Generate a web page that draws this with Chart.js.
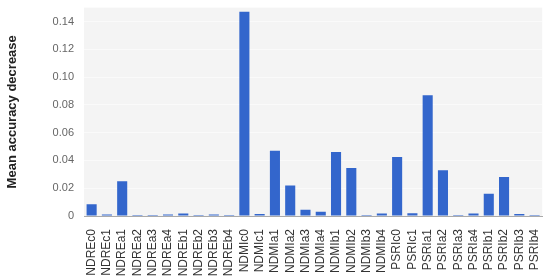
<!DOCTYPE html>
<html>
<head>
<meta charset="utf-8">
<script src="https://cdn.jsdelivr.net/npm/chart.js@4"></script>
<style>
  html, body { margin: 0; padding: 0; background: #fff; overflow: hidden; width: 550px; height: 278px; }
  #wrap { width: 554px; height: 287px; position: absolute; left: 0; top: -9px; }
</style>
</head>
<body>
<div id="wrap"><canvas id="chart"></canvas></div>
<script>
const categories = ['NDREc0','NDREc1','NDREa1','NDREa2','NDREa3','NDREa4','NDREb1','NDREb2','NDREb3','NDREb4',
  'NDMIc0','NDMIc1','NDMIa1','NDMIa2','NDMIa3','NDMIa4','NDMIb1','NDMIb2','NDMIb3','NDMIb4',
  'PSRIc0','PSRIc1','PSRIa1','PSRIa2','PSRIa3','PSRIa4','PSRIb1','PSRIb2','PSRIb3','PSRIb4'];
const meanDecrease = [0.0085,0.001,0.025,0.0006,0.0004,0.001,0.0018,0.0002,0.001,0.0003,
  0.147,0.0015,0.047,0.022,0.0045,0.003,0.046,0.0345,0.0008,0.0018,
  0.0425,0.002,0.087,0.033,0.0005,0.0018,0.016,0.028,0.0015,0.0007];
const yTicks = [0,0.02,0.04,0.06,0.08,0.10,0.12,0.14];

const plotBg = {
  id: 'plotBg',
  beforeDraw(chart) {
    const {ctx, chartArea: a} = chart;
    ctx.save();
    ctx.fillStyle = '#f4f4f4';
    ctx.fillRect(a.left, a.top, a.right - a.left, a.bottom - a.top);
    ctx.restore();
  }
};

new Chart(document.getElementById('chart'), {
  type: 'bar',
  data: {
    labels: categories,
    datasets: [{
      data: meanDecrease,
      backgroundColor: '#3366cc',
      barPercentage: 0.66,
      categoryPercentage: 1.0,
      minBarLength: 1
    }]
  },
  options: {
    responsive: true,
    maintainAspectRatio: false,
    animation: false,
    layout: { padding: 0 },
    plugins: { legend: { display: false }, tooltip: { enabled: false } },
    scales: {
      x: {
        grid: { display: false },
        border: { display: true, color: '#aaa' },
        ticks: {
          color: '#333',
          font: { family: 'Liberation Sans, Arial, sans-serif', size: 12 },
          maxRotation: 90, minRotation: 90, autoSkip: false, padding: 5
        },
        afterFit(s) { s.height = 62; }
      },
      y: {
        min: 0, max: 0.15,
        afterBuildTicks(s) { s.ticks = yTicks.map(v => ({ value: v })); },
        grid: { color: '#fafafa', lineWidth: 1, drawTicks: false },
        border: { display: false },
        ticks: {
          color: '#666',
          padding: 10,
          font: { family: 'Liberation Sans, Arial, sans-serif', size: 11 },
          callback: v => v === 0 ? '0' : v.toFixed(2)
        },
        title: {
          display: true,
          text: 'Mean accuracy decrease',
          color: '#222',
          padding: { top: 5, bottom: 0 },
          font: { family: 'Liberation Sans, Arial, sans-serif', size: 13, weight: 'bold' }
        },
        afterFit(s) { s.width = 84; }
      }
    }
  },
  plugins: [plotBg]
});
</script>
</body>
</html>
